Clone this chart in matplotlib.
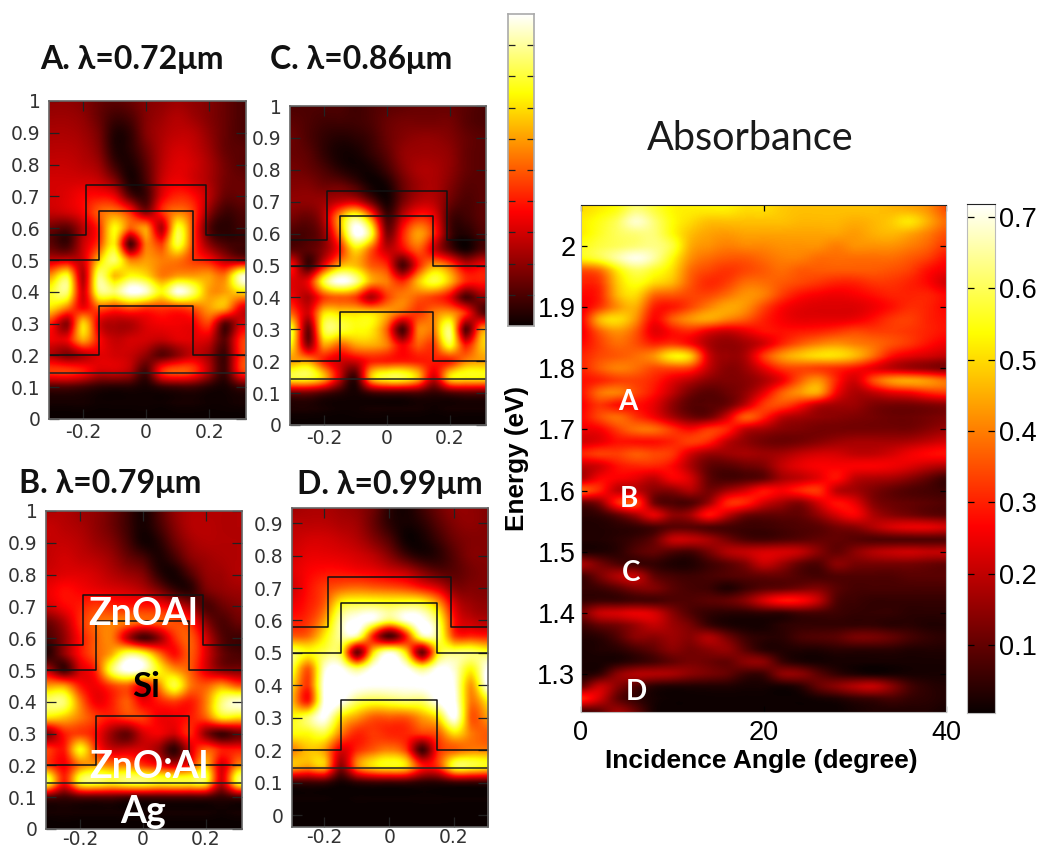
import numpy as np
import matplotlib
matplotlib.use("Agg")
import matplotlib.pyplot as plt

W, H = 1039, 849

# field maps, top row first, columns x = -0.3 ... 0.3 in steps of 0.05
panel_x = [round(-0.3 + 0.05 * i, 2) for i in range(13)]

field_a = [
    [.20, .20, .18, .14, .12, .14, .18, .20, .22, .20, .18, .14, .10],
    [.22, .22, .20, .14, .08, .10, .18, .22, .25, .22, .18, .14, .10],
    [.24, .24, .22, .16, .04, .06, .18, .24, .27, .26, .20, .14, .10],
    [.26, .26, .24, .18, .04, .05, .15, .25, .30, .28, .22, .14, .12],
    [.28, .28, .26, .22, .08, .03, .12, .26, .32, .30, .24, .16, .12],
    [.30, .30, .30, .28, .18, .03, .10, .28, .34, .30, .24, .16, .14],
    [.30, .32, .36, .38, .34, .12, .08, .32, .42, .38, .26, .14, .14],
    [.28, .30, .36, .50, .55, .42, .20, .42, .55, .45, .20, .08, .10],
    [.15, .12, .26, .42, .75, .50, .60, .25, .78, .45, .12, .05, .08],
    [.12, .08, .28, .45, .72, .10, .55, .45, .80, .45, .20, .10, .08],
    [.28, .30, .30, .65, .85, .55, .60, .55, .55, .45, .38, .25, .20],
    [.60, .78, .25, .85, .65, .75, .70, .55, .60, .60, .60, .55, .92],
    [.78, .85, .30, .85, .85, 1.0, .95, .75, .98, .85, .60, .60, .70],
    [.70, .55, .35, .50, .45, .50, .45, .45, .45, .50, .60, .62, .35],
    [.40, .20, .68, .32, .25, .25, .32, .35, .35, .35, .45, .12, .30],
    [.35, .35, .62, .38, .28, .30, .30, .28, .32, .32, .30, .12, .42],
    [.25, .18, .25, .32, .30, .28, .20, .12, .20, .28, .22, .08, .42],
    [.45, .45, .40, .30, .30, .25, .10, .42, .50, .45, .25, .08, .42],
    [.10, .10, .08, .05, .04, .04, .02, .06, .08, .08, .04, .02, .08],
    [.02, .02, .02, .01, .01, .01, .01, .01, .02, .02, .01, .01, .02],
    [.00, .00, .00, .00, .00, .00, .00, .00, .00, .00, .00, .00, .00],
]

field_c = [
    [.10, .10, .10, .10, .08, .10, .12, .13, .14, .14, .14, .12, .10],
    [.12, .10, .08, .08, .08, .10, .14, .16, .16, .16, .16, .12, .10],
    [.14, .10, .06, .04, .05, .08, .14, .18, .20, .20, .18, .14, .12],
    [.14, .12, .06, .02, .02, .06, .12, .20, .22, .22, .20, .14, .12],
    [.16, .14, .10, .05, .02, .02, .08, .18, .24, .24, .20, .14, .12],
    [.18, .18, .15, .15, .10, .02, .02, .14, .22, .24, .18, .12, .12],
    [.20, .20, .22, .28, .30, .15, .02, .16, .26, .26, .15, .10, .12],
    [.16, .14, .25, .60, .85, .55, .10, .28, .42, .35, .10, .08, .12],
    [.10, .10, .20, .55, 1.0, .80, .18, .40, .60, .42, .10, .04, .10],
    [.12, .12, .20, .40, .70, .50, .28, .35, .50, .30, .12, .02, .10],
    [.36, .08, .35, .62, .65, .50, .42, .10, .40, .60, .50, .30, .35],
    [.32, .35, .80, 1.0, .90, .62, .55, .42, .65, .80, .65, .42, .40],
    [.35, .25, .45, .50, .45, .25, .45, .55, .50, .45, .35, .10, .20],
    [.50, .30, .70, .70, .70, .70, .62, .50, .45, .55, .60, .42, .15],
    [.75, .15, .80, .80, .75, .72, .50, .10, .55, .55, .85, .12, .55],
    [.70, .20, .60, .50, .60, .62, .55, .35, .50, .45, .78, .40, .65],
    [.60, .60, .40, .30, .30, .40, .40, .40, .40, .40, .40, .55, .60],
    [.80, .80, .65, .30, .08, .65, .80, .80, .65, .30, .70, .75, .75],
    [.15, .15, .10, .05, .02, .08, .10, .10, .10, .06, .10, .12, .12],
    [.03, .03, .02, .01, .01, .02, .02, .02, .02, .01, .02, .02, .02],
    [.00, .00, .00, .00, .00, .00, .00, .00, .00, .00, .00, .00, .00],
]

field_b = [
    [.25, .25, .22, .20, .15, .08, .02, .10, .20, .25, .25, .25, .25],
    [.28, .26, .24, .20, .15, .08, .02, .08, .18, .25, .26, .25, .25],
    [.28, .28, .26, .22, .18, .10, .02, .04, .14, .22, .25, .25, .25],
    [.28, .30, .28, .26, .22, .15, .10, .03, .08, .18, .22, .24, .25],
    [.30, .32, .32, .30, .26, .22, .18, .06, .02, .10, .20, .22, .25],
    [.34, .38, .36, .34, .32, .30, .26, .18, .08, .05, .16, .20, .22],
    [.30, .36, .40, .45, .42, .40, .40, .38, .32, .22, .10, .14, .18],
    [.15, .25, .42, .52, .55, .55, .50, .50, .48, .42, .20, .10, .14],
    [.10, .20, .38, .50, .55, .28, .10, .20, .42, .50, .30, .12, .08],
    [.05, .20, .38, .50, .62, .85, .80, .55, .38, .50, .32, .15, .10],
    [.25, .08, .30, .42, .82, 1.0, .95, .75, .60, .50, .32, .20, .18],
    [.60, .60, .40, .35, .45, .50, .35, .55, .80, .55, .50, .60, .50],
    [.85, .85, .55, .35, .40, .50, .35, .40, .45, .40, .55, .85, .95],
    [.70, .65, .55, .45, .40, .45, .45, .35, .35, .40, .50, .72, .70],
    [.20, .40, .45, .38, .22, .14, .30, .35, .30, .42, .20, .08, .15],
    [.45, .40, .75, .45, .30, .30, .30, .22, .06, .30, .50, .40, .40],
    [.45, .35, .55, .60, .55, .55, .45, .38, .30, .40, .65, .30, .55],
    [.80, .40, .80, .85, .80, .85, .85, .80, .80, .80, .80, .30, .80],
    [.12, .08, .12, .12, .12, .10, .10, .10, .10, .10, .10, .06, .10],
    [.02, .02, .02, .02, .02, .02, .02, .02, .02, .02, .02, .01, .02],
    [.00, .00, .00, .00, .00, .00, .00, .00, .00, .00, .00, .00, .00],
]

# D runs from y = 0.95 down to y = -0.05
field_d = [
    [.22, .24, .24, .22, .20, .15, .05, .02, .08, .15, .20, .20, .18],
    [.26, .26, .26, .24, .22, .14, .05, .02, .05, .12, .18, .20, .18],
    [.28, .30, .30, .28, .25, .18, .10, .01, .02, .08, .15, .18, .18],
    [.30, .33, .33, .32, .30, .26, .18, .08, .03, .05, .12, .18, .18],
    [.32, .36, .38, .38, .36, .34, .30, .26, .18, .12, .12, .16, .18],
    [.30, .38, .45, .50, .52, .50, .48, .45, .38, .30, .18, .18, .18],
    [.34, .40, .50, .75, .80, .80, .78, .80, .78, .60, .30, .22, .20],
    [.40, .44, .60, .90, 1.0, .98, .85, .98, 1.0, .80, .38, .28, .25],
    [.50, .52, .72, .90, .90, .40, .10, .40, .90, .85, .45, .42, .40],
    [.85, .75, .82, .80, .15, .70, .95, .70, .15, .75, .85, .85, .80],
    [.80, .50, .95, 1.0, .85, 1.0, 1.0, 1.0, .85, 1.0, .95, .75, 1.0],
    [.70, .45, 1.0, 1.0, 1.0, 1.0, 1.0, 1.0, 1.0, 1.0, .98, .60, 1.0],
    [.65, .40, 1.0, 1.0, .85, .80, .82, .85, .85, 1.0, 1.0, .55, .72],
    [.75, .85, 1.0, .72, .60, .50, .50, .50, .60, .72, 1.0, .50, .60],
    [.75, .75, .80, .55, .42, .45, .42, .42, .45, .50, .70, .55, .50],
    [.55, .65, .60, .32, .42, .50, .55, .45, .08, .42, .50, .55, .55],
    [.65, .60, .65, .20, .55, .70, .75, .70, .40, .45, .80, .80, .75],
    [.08, .08, .08, .02, .06, .08, .08, .08, .05, .05, .08, .08, .08],
    [.01, .01, .01, .00, .01, .01, .01, .01, .01, .01, .01, .01, .01],
    [.00, .00, .00, .00, .00, .00, .00, .00, .00, .00, .00, .00, .00],
    [.00, .00, .00, .00, .00, .00, .00, .00, .00, .00, .00, .00, .00],
]

# layer outlines in the device
ridge_x = [-0.31, -0.19, -0.19, 0.19, 0.19, 0.32]
ridge_y = [0.58, 0.58, 0.735, 0.735, 0.58, 0.58]
si_top_x = [-0.31, -0.148, -0.148, 0.148, 0.148, 0.32]
si_top_y = [0.50, 0.50, 0.655, 0.655, 0.50, 0.50]
si_bot_x = [-0.31, -0.148, -0.148, 0.148, 0.148, 0.32]
si_bot_y = [0.20, 0.20, 0.355, 0.355, 0.20, 0.20]
ag_x = [-0.31, 0.32]
ag_y = [0.145, 0.145]

# absorbance map, energy 2.06 -> 1.24 eV (rows), angle 0 -> 40 deg (columns)
angles = list(range(0, 41, 2))
energies = [round(2.06 - 0.02 * i, 2) for i in range(42)]
absorbance = [
    [.50, .52, .55, .62, .58, .53, .52, .52, .52, .50, .50, .48, .47, .47, .47, .47, .47, .46, .45, .42, .35],
    [.52, .55, .60, .68, .62, .54, .50, .47, .47, .47, .47, .47, .46, .46, .46, .45, .46, .48, .51, .45, .38],
    [.52, .56, .60, .62, .62, .54, .47, .44, .43, .44, .44, .44, .44, .44, .44, .43, .45, .46, .44, .40, .35],
    [.55, .58, .60, .62, .63, .58, .45, .42, .40, .41, .41, .42, .42, .42, .40, .42, .42, .42, .40, .37, .32],
    [.54, .58, .65, .70, .65, .54, .42, .38, .36, .36, .38, .40, .40, .38, .38, .38, .38, .38, .36, .33, .28],
    [.35, .38, .52, .60, .56, .50, .38, .34, .32, .34, .36, .38, .36, .36, .36, .36, .36, .35, .33, .28, .25],
    [.30, .32, .48, .55, .50, .46, .36, .31, .33, .38, .38, .36, .34, .32, .30, .30, .32, .32, .30, .27, .22],
    [.27, .30, .46, .50, .38, .36, .34, .34, .38, .42, .40, .33, .28, .26, .25, .26, .28, .30, .30, .30, .27],
    [.25, .32, .42, .45, .30, .29, .34, .40, .44, .42, .34, .27, .24, .23, .23, .23, .25, .28, .31, .30, .27],
    [.26, .45, .50, .42, .27, .36, .42, .44, .40, .36, .30, .26, .24, .24, .24, .25, .28, .32, .33, .30, .28],
    [.25, .36, .42, .36, .24, .28, .30, .24, .21, .24, .28, .28, .29, .30, .32, .34, .33, .33, .32, .30, .28],
    [.27, .33, .38, .35, .30, .32, .27, .18, .15, .17, .22, .30, .36, .40, .42, .40, .38, .35, .32, .28, .25],
    [.30, .34, .36, .38, .42, .52, .48, .22, .16, .18, .32, .42, .47, .50, .50, .46, .38, .28, .24, .22, .20],
    [.30, .36, .40, .38, .34, .34, .32, .20, .14, .16, .24, .32, .34, .33, .31, .28, .24, .20, .17, .15, .13],
    [.28, .30, .33, .33, .30, .24, .19, .14, .13, .14, .18, .25, .36, .42, .30, .22, .34, .42, .44, .42, .38],
    [.28, .38, .40, .34, .28, .20, .12, .09, .11, .15, .24, .36, .42, .44, .26, .18, .20, .24, .26, .30, .32],
    [.26, .32, .28, .28, .24, .15, .09, .09, .11, .20, .32, .34, .28, .20, .17, .16, .13, .12, .12, .13, .14],
    [.27, .34, .38, .32, .26, .18, .12, .12, .22, .36, .30, .20, .17, .15, .14, .13, .12, .11, .11, .12, .13],
    [.25, .26, .33, .38, .38, .32, .27, .32, .30, .20, .17, .14, .13, .12, .12, .12, .12, .12, .12, .14, .16],
    [.22, .24, .28, .28, .28, .30, .33, .30, .20, .15, .12, .11, .12, .14, .16, .17, .17, .17, .18, .20, .22],
    [.30, .33, .33, .36, .34, .32, .22, .16, .16, .17, .16, .17, .20, .22, .22, .20, .20, .22, .25, .27, .28],
    [.20, .22, .28, .30, .30, .27, .18, .10, .09, .11, .13, .20, .24, .26, .26, .26, .26, .25, .23, .20, .18],
    [.18, .26, .26, .24, .20, .26, .22, .10, .07, .08, .10, .17, .20, .24, .28, .20, .18, .17, .14, .10, .06],
    [.36, .30, .20, .20, .14, .14, .18, .12, .17, .22, .28, .26, .30, .32, .20, .17, .13, .10, .08, .07, .06],
    [.10, .14, .30, .34, .12, .08, .08, .16, .30, .30, .22, .17, .14, .22, .28, .24, .14, .11, .10, .09, .08],
    [.04, .05, .10, .17, .24, .15, .17, .28, .20, .12, .10, .10, .10, .15, .22, .26, .18, .14, .12, .10, .09],
    [.03, .03, .04, .05, .07, .09, .09, .08, .07, .06, .06, .07, .08, .09, .12, .14, .18, .22, .24, .24, .22],
    [.03, .03, .04, .06, .10, .20, .20, .17, .12, .08, .07, .08, .09, .10, .10, .09, .08, .08, .08, .08, .08],
    [.03, .03, .04, .08, .10, .08, .07, .12, .18, .20, .22, .22, .20, .14, .10, .14, .18, .20, .21, .20, .20],
    [.17, .12, .08, .06, .05, .03, .03, .06, .09, .13, .20, .16, .10, .08, .14, .12, .12, .12, .12, .11, .10],
    [.06, .12, .18, .20, .10, .07, .06, .07, .08, .09, .10, .10, .08, .07, .08, .08, .08, .08, .09, .09, .09],
    [.05, .06, .09, .13, .13, .09, .07, .06, .03, .06, .09, .10, .12, .13, .09, .07, .07, .07, .07, .07, .07],
    [.05, .06, .06, .07, .07, .08, .08, .09, .10, .14, .22, .28, .27, .20, .08, .06, .05, .05, .05, .05, .05],
    [.12, .20, .22, .24, .22, .14, .08, .05, .04, .04, .05, .05, .07, .07, .06, .05, .05, .05, .04, .04, .04],
    [.06, .10, .12, .16, .20, .16, .12, .06, .03, .02, .02, .04, .05, .05, .05, .05, .05, .04, .04, .03, .03],
    [.03, .04, .08, .14, .14, .16, .14, .18, .12, .06, .04, .04, .07, .08, .09, .12, .12, .10, .07, .05, .04],
    [.02, .03, .04, .07, .10, .14, .12, .14, .15, .09, .04, .03, .03, .03, .04, .04, .04, .04, .03, .03, .03],
    [.02, .02, .03, .05, .07, .10, .12, .11, .10, .14, .14, .06, .03, .02, .02, .02, .02, .02, .02, .02, .02],
    [.03, .05, .14, .18, .18, .17, .14, .12, .10, .06, .06, .14, .14, .09, .05, .03, .02, .02, .02, .02, .02],
    [.10, .20, .14, .08, .04, .03, .03, .03, .03, .02, .02, .02, .04, .10, .14, .18, .20, .14, .07, .04, .03],
    [.30, .22, .10, .05, .02, .01, .01, .01, .01, .01, .01, .01, .01, .02, .03, .05, .06, .07, .05, .04, .03],
    [.08, .10, .16, .10, .02, .01, .01, .01, .01, .01, .01, .01, .01, .01, .01, .02, .03, .03, .03, .03, .02],
]

panel_yticks = [0, .1, .2, .3, .4, .5, .6, .7, .8, .9, 1]
panel_yticklabels = ["0", "0.1", "0.2", "0.3", "0.4", "0.5", "0.6", "0.7", "0.8", "0.9", "1"]
panel_xticks = [-0.2, 0, 0.2]
panel_xticklabels = ["-0.2", "0", "0.2"]

energy_ticks = [1.3, 1.4, 1.5, 1.6, 1.7, 1.8, 1.9, 2]
energy_labels = ["1.3", "1.4", "1.5", "1.6", "1.7", "1.8", "1.9", "2"]
angle_ticks = [0, 20, 40]
cbar_ticks = [.1, .2, .3, .4, .5, .6, .7]

plt.rcParams["font.family"] = ["DejaVu Sans"]
head_font = ["Lato", "Open Sans", "DejaVu Sans"]
arial = ["Liberation Sans", "DejaVu Sans"]

fig = plt.figure(figsize=(W / 100, H / 100), dpi=100)


def box(x0, y0, x1, y1):
    # pixel box of the reference -> figure fractions
    return fig.add_axes([x0 / W, 1 - y1 / H, (x1 - x0) / W, (y1 - y0) / H])


def px_text(x, y, s, **kw):
    fig.text(x / W, 1 - y / H, s, ha="center", va="center", **kw)


def draw_panel(rect, field, ytop, ybot, yticks, ylabels, xlim, ylim, xpad=3):
    ax = box(*rect)
    ax.imshow(field, cmap="hot", vmin=0, vmax=1, aspect="auto", interpolation="spline16",
              extent=(-0.325, 0.325, ybot - 0.025, ytop + 0.025))
    ax.plot(ridge_x, ridge_y, color="#111111", lw=1.1)
    ax.plot(si_top_x, si_top_y, color="#111111", lw=1.1)
    ax.plot(si_bot_x, si_bot_y, color="#111111", lw=1.1)
    ax.plot(ag_x, ag_y, color="#222222", lw=1.1)
    ax.set_xlim(*xlim)
    ax.set_ylim(*ylim)
    ax.set_xticks(panel_xticks)
    ax.set_xticklabels(panel_xticklabels)
    ax.set_yticks(yticks)
    ax.set_yticklabels(ylabels)
    ax.tick_params(direction="in", length=7, width=0.9, top=True, right=True, color="#222222",
                   labelsize=13.5, labelcolor="#333333", pad=6)
    ax.tick_params(axis="x", pad=xpad)
    for s in ax.spines.values():
        s.set_color("#666666")
        s.set_linewidth(1.2)
    return ax


draw_panel((49, 101, 246, 419), field_a, 1, 0, panel_yticks, panel_yticklabels, (-0.308, 0.317), (0, 1))
draw_panel((290, 106, 486, 425), field_c, 1, 0, panel_yticks, panel_yticklabels, (-0.308, 0.315), (0, 1))
draw_panel((46, 511, 242, 829), field_b, 1, 0, panel_yticks, panel_yticklabels, (-0.308, 0.315), (0, 1), xpad=1)
draw_panel((292, 508, 488, 827), field_d, 0.95, -0.05, panel_yticks[:-1], panel_yticklabels[:-1],
           (-0.3, 0.305), (-0.037, 0.947), xpad=1)

for x, y, s in [(132, 60, "A. λ=0.72μm"), (361, 59, "C. λ=0.86μm"),
                (110, 483, "B. λ=0.79μm"), (390, 485, "D. λ=0.99μm")]:
    px_text(x, y, s, family=head_font, fontweight="bold", fontsize=23, color="#111111")

# material labels in panel B
px_text(143, 614, "ZnOAl", family=head_font, fontweight="bold", fontsize=27, color="white")
px_text(146, 687, "Si", family=head_font, fontweight="bold", fontsize=25, color="black")
px_text(149, 767, "ZnO:Al", family=head_font, fontweight="bold", fontsize=27, color="white")
px_text(143, 812, "Ag", family=head_font, fontweight="bold", fontsize=27, color="white")

# colour bar of the field maps
cb1 = box(508, 14, 534, 326)
cb1.imshow(np.linspace(1, 0, 256).reshape(-1, 1), cmap="hot", aspect="auto", extent=(0, 1, 0, 1))
cb1.set_xticks([])
cb1.set_yticks([i / 10 for i in range(1, 10)])
cb1.set_yticklabels([])
cb1.tick_params(direction="in", length=5, width=0.9, right=True, color="#222222")
for s in cb1.spines.values():
    s.set_color("#aaaaaa")
    s.set_linewidth(1.2)

# main absorbance map
main = box(581, 205, 946, 712)
main.imshow(np.array(absorbance), cmap="hot", vmin=0.005, vmax=0.718, aspect="auto", interpolation="spline16",
            extent=(angles[0] - 1, angles[-1] + 1, energies[-1] - 0.01, energies[0] + 0.01))
main.set_xlim(0, 40)
main.set_ylim(1.238, 2.067)
main.set_xticks(angle_ticks)
main.set_yticks(energy_ticks)
main.set_yticklabels(energy_labels)
main.tick_params(direction="in", length=4, width=0.9, top=True, right=True, labelsize=19.5, pad=4)
main.tick_params(axis="x", pad=6)
for lab in main.get_xticklabels() + main.get_yticklabels():
    lab.set_family(arial)
main.set_xlabel("Incidence Angle (degree)", family=arial, fontweight="bold", fontsize=19, va="center")
main.set_ylabel("Energy (eV)", family=arial, fontweight="bold", fontsize=18.8, va="center")
main.xaxis.set_label_coords(0.495, -0.097)
main.yaxis.set_label_coords(-0.175, 0.5)
for s in main.spines.values():
    s.set_color("#bbbbbb")
main.spines["top"].set_color("#222222")

for x, y, s in [(628, 402, "A"), (629, 499, "B"), (631, 573, "C"), (636, 692, "D")]:
    px_text(x, y, s, family=head_font, fontweight="bold", fontsize=20, color="white")

px_text(750, 138, "Absorbance", family=head_font, fontsize=28.5, color="#1a1a1a")

cb2 = box(967, 204, 995, 713)
cb2.imshow(np.linspace(0.718, 0.005, 256).reshape(-1, 1), cmap="hot", vmin=0.005, vmax=0.718, aspect="auto",
           extent=(0, 1, 0.005, 0.718))
cb2.set_xticks([])
cb2.yaxis.tick_right()
cb2.set_yticks(cbar_ticks)
cb2.set_yticklabels([str(t) for t in cbar_ticks])
cb2.tick_params(direction="in", length=5, width=0.9, left=True, right=True, labelsize=19.5, pad=3)
for lab in cb2.get_yticklabels():
    lab.set_family(arial)
for s in cb2.spines.values():
    s.set_color("#bbbbbb")
cb2.spines["top"].set_color("#222222")

fig.savefig("out.png", dpi=100)
